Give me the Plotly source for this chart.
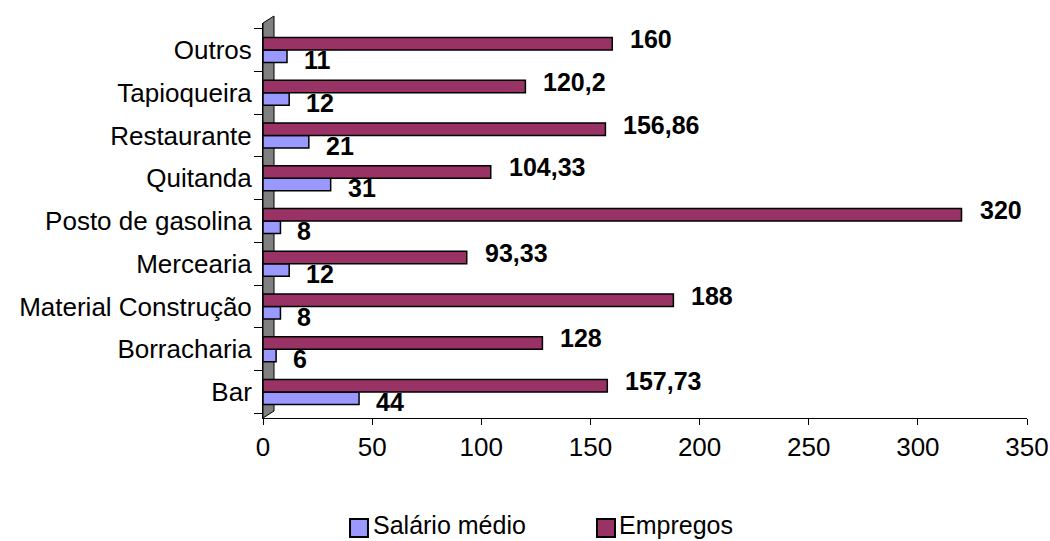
import plotly.graph_objects as go

categories = ["Bar", "Borracharia", "Material Construção", "Mercearia", "Posto de gasolina",
              "Quitanda", "Restaurante", "Tapioqueira", "Outros"]
salario = [44, 6, 8, 12, 8, 31, 21, 12, 11]
empregos = [157.73, 128, 188, 93.33, 320, 104.33, 156.86, 120.2, 160]
salario_labels = ["44", "6", "8", "12", "8", "31", "21", "12", "11"]
empregos_labels = ["157,73", "128", "188", "93,33", "320", "104,33", "156,86", "120,2", "160"]
series_names = ["Salário médio", "Empregos"]
series_colors = ["#9999FF", "#993366"]

FONT = "Liberation Sans, Arial, sans-serif"

fig = go.Figure()
fig.add_trace(go.Bar(y=categories, x=salario, orientation="h", name=series_names[0],
                     marker=dict(color=series_colors[0], line=dict(color="black", width=1.5)),
                     showlegend=False))
fig.add_trace(go.Bar(y=categories, x=empregos, orientation="h", name=series_names[1],
                     marker=dict(color=series_colors[1], line=dict(color="black", width=1.5)),
                     showlegend=False))

annotations = []
for c, v, t in zip(categories, salario, salario_labels):
    annotations.append(dict(x=v, y=c, xref="x", yref="y", text="<b>%s</b>" % t, showarrow=False,
                            xanchor="left", yanchor="middle", xshift=15, yshift=-10,
                            font=dict(size=25, color="black", family=FONT)))
for c, v, t in zip(categories, empregos, empregos_labels):
    annotations.append(dict(x=v, y=c, xref="x", yref="y", text="<b>%s</b>" % t, showarrow=False,
                            xanchor="left", yanchor="middle", xshift=16, yshift=11,
                            font=dict(size=25, color="black", family=FONT)))

# custom legend (large square swatches like the original)
legend_sq_x = [(0.1139, 0.1374), (0.4372, 0.4607)]
legend_txt_x = [0.1427, 0.4647]
shapes = [dict(type="path", xref="paper", yref="paper",
               path="M 0,0 L 0,1 L 0.0144,1.0177 L 0.0144,0.0177 Z",
               fillcolor="#808080", line=dict(color="black", width=1), layer="below")]
for (x0, x1), tx, name, col in zip(legend_sq_x, legend_txt_x, series_names, series_colors):
    shapes.append(dict(type="rect", xref="paper", yref="paper", x0=x0, x1=x1,
                       y0=-0.3013, y1=-0.2557, fillcolor=col, line=dict(color="black", width=2)))
    annotations.append(dict(x=tx, y=-0.2709, xref="paper", yref="paper", text=name,
                            showarrow=False, xanchor="left", yanchor="middle", borderpad=0,
                            font=dict(size=25, color="black", family=FONT)))

fig.update_layout(
    width=1050, height=541,
    margin=dict(l=263, r=23, t=23, b=123, autoexpand=False),
    paper_bgcolor="white", plot_bgcolor="white",
    barmode="group", bargap=0.41, bargroupgap=0,
    font=dict(family=FONT, size=26, color="black"),
    showlegend=False,
    annotations=annotations,
    shapes=shapes,
)
fig.update_xaxes(range=[0, 350], dtick=50, showgrid=False, zeroline=False,
                 showline=True, linecolor="black", linewidth=1, automargin=False,
                 ticks="outside", ticklen=6, tickcolor="black",
                 tickfont=dict(size=26))
fig.update_yaxes(categoryorder="array", categoryarray=categories, showgrid=False,
                 showline=True, linecolor="black", linewidth=1, automargin=False,
                 ticks="outside", ticklen=8, tickcolor="black", tickson="boundaries",
                 ticklabelstandoff=5, tickfont=dict(size=26))

fig.write_html("out.html", config={"displayModeBar": False},
               post_script="document.body.style.margin='0';")
